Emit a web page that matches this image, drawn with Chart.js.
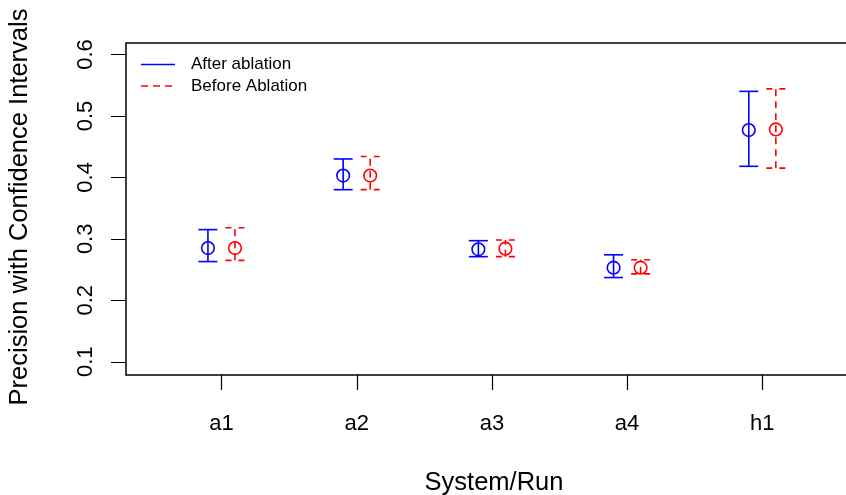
<!DOCTYPE html>
<html lang="en">
<head>
    <meta charset="UTF-8">
    <title>Precision with Confidence Intervals</title>
    <script src="https://cdn.jsdelivr.net/npm/chart.js"></script>
    <style>
        body { margin: 0; background: #fff; }
        canvas { display: block; }
    </style>
</head>
<body>
    <canvas id="chart" width="846" height="495"></canvas>

    <script>
        // Daten
        const categories = ['a1', 'a2', 'a3', 'a4', 'h1'];
        const afterMean  = [0.285, 0.403, 0.283, 0.253, 0.477];
        const afterLow   = [0.263, 0.380, 0.271, 0.237, 0.418];
        const afterHigh  = [0.315, 0.430, 0.297, 0.274, 0.540];
        const beforeMean = [0.285, 0.403, 0.284, 0.253, 0.478];
        const beforeLow  = [0.265, 0.380, 0.271, 0.243, 0.415];
        const beforeHigh = [0.318, 0.434, 0.298, 0.266, 0.544];
        const yTicks = [0.1, 0.2, 0.3, 0.4, 0.5, 0.6];
        const yTickLabels = ['0.1', '0.2', '0.3', '0.4', '0.5', '0.6'];

        const FONT = '"Liberation Sans", Arial, Helvetica, sans-serif';
        const shift = 0.1;

        const afterPts = afterMean.map((v, i) => ({ x: i + 1 - shift, y: v, lo: afterLow[i], hi: afterHigh[i] }));
        const beforePts = beforeMean.map((v, i) => ({ x: i + 1 + shift, y: v, lo: beforeLow[i], hi: beforeHigh[i] }));

        // Fehlerbalken, Rahmen, Achsen und Legende im R-Stil
        const rStyle = {
            id: 'rStyle',
            beforeDatasetsDraw(chart) {
                const ctx = chart.ctx;
                const xs = chart.scales.x, ys = chart.scales.y;
                const cap = 9.5;
                chart.data.datasets.forEach(ds => {
                    ctx.save();
                    ctx.strokeStyle = ds.borderColor;
                    ctx.lineWidth = 1.6;
                    ds.data.forEach(p => {
                        const px = xs.getPixelForValue(p.x);
                        const yLo = ys.getPixelForValue(p.lo);
                        const yHi = ys.getPixelForValue(p.hi);
                        ctx.setLineDash(ds.dash);
                        ctx.beginPath();
                        ctx.moveTo(px, yLo);
                        ctx.lineTo(px, yHi);
                        ctx.stroke();
                        ctx.setLineDash(ds.dash.length ? [6, 7] : []);
                        [yLo, yHi].forEach(yy => {
                            ctx.beginPath();
                            ctx.moveTo(px - cap, yy);
                            ctx.lineTo(px + cap, yy);
                            ctx.stroke();
                        });
                    });
                    ctx.restore();
                });
            },
            afterDraw(chart) {
                const ctx = chart.ctx;
                const a = chart.chartArea;
                const xs = chart.scales.x, ys = chart.scales.y;
                ctx.save();
                ctx.strokeStyle = '#000';
                ctx.fillStyle = '#000';
                ctx.lineWidth = 1.5;
                ctx.strokeRect(a.left, a.top, a.right - a.left + 30, a.bottom - a.top);

                // Striche
                ctx.beginPath();
                categories.forEach((c, i) => {
                    const px = Math.round(xs.getPixelForValue(i + 1)) + 0.5;
                    ctx.moveTo(px, a.bottom);
                    ctx.lineTo(px, a.bottom + 15);
                });
                yTicks.forEach(v => {
                    const py = Math.round(ys.getPixelForValue(v)) + 0.5;
                    ctx.moveTo(a.left, py);
                    ctx.lineTo(a.left - 15, py);
                });
                ctx.lineWidth = 1.2;
                ctx.stroke();

                // Beschriftungen
                ctx.font = '22px ' + FONT;
                ctx.textAlign = 'center';
                ctx.textBaseline = 'alphabetic';
                categories.forEach((c, i) => {
                    ctx.fillText(c, xs.getPixelForValue(i + 1), 430);
                });
                yTicks.forEach((v, i) => {
                    ctx.save();
                    ctx.translate(92, ys.getPixelForValue(v));
                    ctx.rotate(-Math.PI / 2);
                    ctx.fillText(yTickLabels[i], 0, 0);
                    ctx.restore();
                });

                ctx.font = '25.5px ' + FONT;
                ctx.fillText('System/Run', 494, 490);
                ctx.save();
                ctx.translate(27, 207);
                ctx.rotate(-Math.PI / 2);
                ctx.fillText('Precision with Confidence Intervals', 0, 0);
                ctx.restore();

                // Legende
                ctx.font = '17px ' + FONT;
                ctx.textAlign = 'left';
                ctx.textBaseline = 'middle';
                chart.data.datasets.forEach((ds, i) => {
                    const ly = 64.5 + i * 21.5;
                    ctx.strokeStyle = ds.borderColor;
                    ctx.lineWidth = 1.6;
                    ctx.setLineDash(ds.dash);
                    ctx.beginPath();
                    ctx.moveTo(141, ly);
                    ctx.lineTo(175, ly);
                    ctx.stroke();
                    ctx.setLineDash([]);
                    ctx.fillStyle = '#000';
                    ctx.fillText(ds.label, 191, ly);
                });
                ctx.restore();
            }
        };

        const ctx = document.getElementById('chart').getContext('2d');
        new Chart(ctx, {
            type: 'scatter',
            data: {
                datasets: [{
                    label: 'After ablation',
                    data: afterPts,
                    borderColor: '#0000ff',
                    backgroundColor: 'rgba(0,0,0,0)',
                    pointRadius: 6.3,
                    pointBorderWidth: 1.6,
                    dash: []
                }, {
                    label: 'Before Ablation',
                    data: beforePts,
                    borderColor: '#ff0000',
                    backgroundColor: 'rgba(0,0,0,0)',
                    pointRadius: 6.3,
                    pointBorderWidth: 1.6,
                    dash: [7, 5]
                }]
            },
            options: {
                responsive: false,
                animation: false,
                layout: { autoPadding: false, padding: { left: 126, top: 43, right: 0, bottom: 120 } },
                plugins: { legend: { display: false }, tooltip: { enabled: false } },
                scales: {
                    x: { type: 'linear', min: 0.294, max: 5.619, display: false },
                    y: { type: 'linear', min: 0.0784, max: 0.6187, display: false }
                }
            },
            plugins: [rStyle]
        });
    </script>
</body>
</html>
